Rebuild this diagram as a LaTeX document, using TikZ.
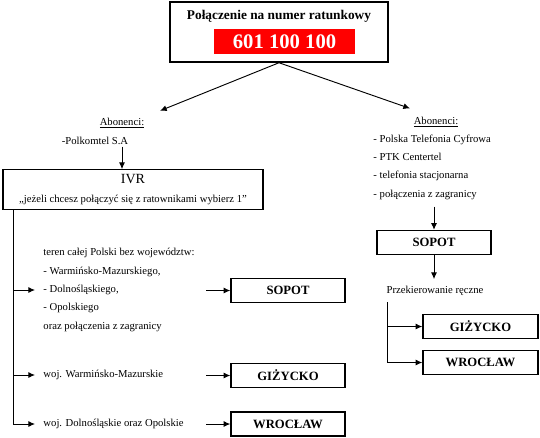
\documentclass[tikz,border=0pt]{standalone}
\usepackage{fontspec}
\setmainfont{Liberation Serif}
\usetikzlibrary{positioning,arrows.meta}

\begin{document}
\begin{tikzpicture}[x=0.75pt,y=-0.75pt,line width=0.7pt,>={Latex[length=5pt,width=4.5pt]},
  txt/.style={font=\fontsize{8}{13.8}\selectfont,align=left,inner sep=0pt},
  town/.style={draw,line width=1.1pt,minimum width=85.5pt,minimum height=18pt,inner sep=0pt,
    font=\fontsize{9.5}{11}\selectfont\bfseries}]
\useasboundingbox (0,0) rectangle (540,437);

% top
\node[draw,line width=1.1pt,minimum width=163.5pt,minimum height=45pt] (top) at (279,32) {};
\node[font=\fontsize{10}{12}\selectfont\bfseries] (title) at (279,16) {Połączenie na numer ratunkowy};
\node[fill=red,text=white,inner sep=0pt,minimum width=105.75pt,minimum height=18.75pt,
  font=\fontsize{15.5}{18}\selectfont\bfseries] (num) at (284.5,41.5) {601 100 100};

% left
\node[txt] (ab_l) at (122,123) {\underline{Abonenci:}};
\node[txt] (polk) at (95,141) {-Polkomtel S.A};
\node[draw,line width=1pt,minimum width=195pt,minimum height=29.25pt,align=center,
  font=\fontsize{8}{14.25}\selectfont] (ivr) at (133,189.5)
  {{\fontsize{10.5}{14.25}\selectfont IVR}\\„jeżeli chcesz połączyć się z ratownikami wybierz 1”};
\coordinate (trunk_l) at (13,209);
\node[txt,anchor=west] (teren) at (43,290) {teren całej Polski bez województw:\\- Warmińsko-Mazurskiego,\\- Dolnośląskiego,\\- Opolskiego\\oraz połączenia z zagranicy};
\node[txt,anchor=west] (wm) at (43,375) {woj. Warmińsko-Mazurskie};
\node[txt,anchor=west] (dop) at (43,424) {woj. Dolnośląskie oraz Opolskie};
\node[town] (sopot_l) at (288,290.5) {SOPOT};
\node[town] (gizycko_l) at (288,375.5) {GIŻYCKO};
\node[town] (wroclaw_l) at (288,424) {WROCŁAW};

% right
\node[txt] (ab_r) at (436,122) {\underline{Abonenci:}};
\node[txt,anchor=west] (list_r) at (373,167) {- Polska Telefonia Cyfrowa\\- PTK Centertel\\- telefonia stacjonarna\\- połączenia z zagranicy};
\node[town] (sopot_r) at (434,242.5) {SOPOT};
\node[txt,inner ysep=5pt] (przek) at (435,291) {Przekierowanie ręczne};
\coordinate (trunk_r) at (387,302);
\node[town,minimum width=86.25pt] (gizycko_r) at (480.5,326.5) {GIŻYCKO};
\node[town,minimum width=86.25pt] (wroclaw_r) at (480.5,362.5) {WROCŁAW};

\path[->]
(top.south) edge ([xshift=11.5pt,yshift=5pt]ab_l.north east)
(top.south) edge ([xshift=-2.5pt,yshift=6pt]ab_r.north west)
([yshift=-1pt]polk.south -| ab_l) edge (ivr.north -| ab_l)
([xshift=-18pt]sopot_l.west) edge (sopot_l.west)
([xshift=-18pt]gizycko_l.west) edge (gizycko_l.west)
([xshift=-18pt]wroclaw_l.west) edge (wroclaw_l.west)
([yshift=-5pt]list_r.south -| sopot_r) edge (sopot_r.north)
(sopot_r.south) edge (sopot_r.south |- przek.north)
; %end path

\draw[->] (trunk_l) |- ([xshift=-6pt]teren.west);
\draw[->] (trunk_l) |- ([xshift=-6pt]wm.west);
\draw[->] (trunk_l) |- ([xshift=-6pt]dop.west);
\draw[->] (trunk_r) |- (gizycko_r.west);
\draw[->] (trunk_r) |- (wroclaw_r.west);
\end{tikzpicture}
\end{document}
